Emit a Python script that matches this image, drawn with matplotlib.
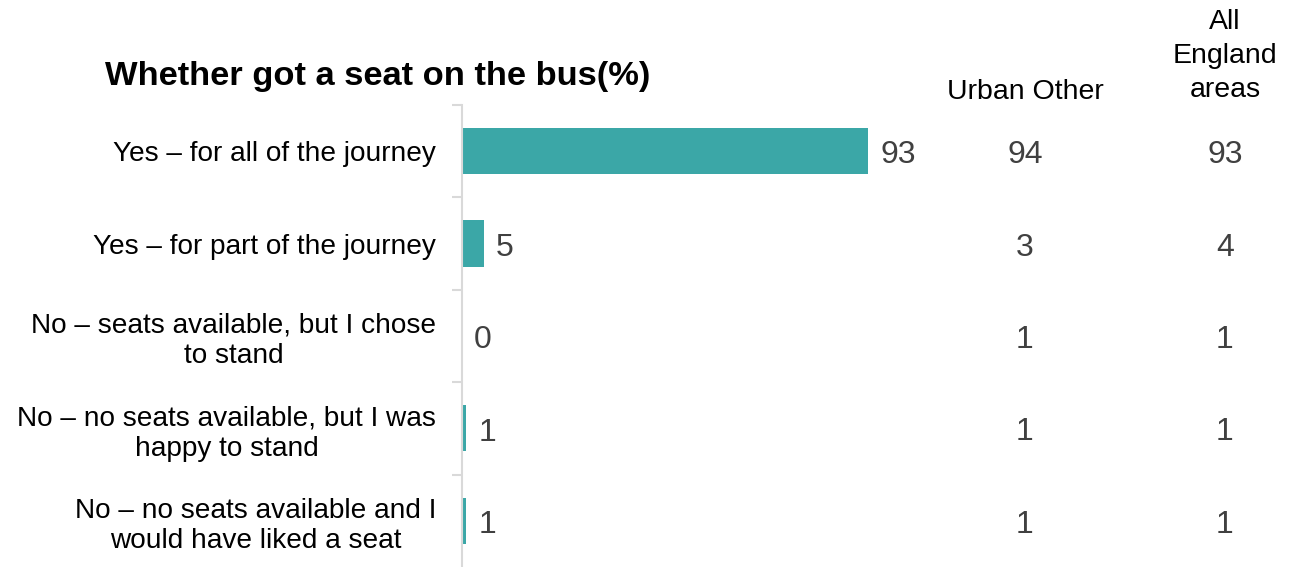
import matplotlib
matplotlib.use("Agg")
import matplotlib.pyplot as plt
from matplotlib.ticker import FixedLocator

plt.rcParams['font.family'] = ['Liberation Sans', 'DejaVu Sans']

categories = [
    "Yes – for all of the journey",
    "Yes – for part of the journey",
    "No – seats available, but I chose\nto stand",
    "No – no seats available, but I was\nhappy to stand",
    "No – no seats available and I\nwould have liked a seat",
]
urban_other_bar = [93, 5, 0, 1, 1]
urban_other_col = [94, 3, 1, 1, 1]
all_england = [93, 4, 1, 1, 1]
title = "Whether got a seat on the bus(%)"
col_headers = ["Urban Other", "All\nEngland\nareas"]

W, H = 1306, 567
fig = plt.figure(figsize=(W / 100, H / 100), dpi=100)
ax_left = 462 / W
ax_top = 105 / H
ax = fig.add_axes([ax_left, 0, 437 / W, 1 - ax_top])

ypos = list(range(len(categories)))
ax.barh(ypos, urban_other_bar, height=0.5, color="#3BA7A7")
ax.set_xlim(0, 100)
ax.set_ylim(len(categories) - 0.5, -0.5)

for s in ["top", "right", "bottom"]:
    ax.spines[s].set_visible(False)
ax.spines["left"].set_color("#D9D9D9")
ax.spines["left"].set_linewidth(1.5)
ax.set_xticks([])
ax.set_yticks(ypos)
ax.set_yticklabels(categories, fontsize=20.2, color="#000000",
                   multialignment="center", linespacing=1.22)
ax.tick_params(axis="y", which="major", length=0, pad=18.5)
ax.yaxis.set_minor_locator(FixedLocator([i - 0.5 for i in range(len(categories))]))
ax.tick_params(axis="y", which="minor", length=7, width=1.5, color="#D9D9D9")

for y, v in zip(ypos, urban_other_bar):
    ax.annotate(str(v), (v, y), xytext=(8.5, -3), textcoords="offset points",
                ha="left", va="center", fontsize=23, color="#404040")

# Extra columns
x_urban = 1025 / W
x_all = 1225 / W
for y, v1, v2 in zip(ypos, urban_other_col, all_england):
    yf = fig.transFigure.inverted().transform(ax.transData.transform((0, y)))[1]
    yf -= 4 / H
    fig.text(x_urban, yf, str(v1), ha="center", va="center", fontsize=23, color="#404040")
    fig.text(x_all, yf, str(v2), ha="center", va="center", fontsize=23, color="#404040")

fig.text(x_urban, 1 - 92 / H, col_headers[0], ha="center", va="center", fontsize=20.5, color="#000000")
fig.text(x_all, 1 - 56 / H, col_headers[1], ha="center", va="center", fontsize=20.5,
         color="#000000", multialignment="center", linespacing=1.4)

fig.text(105 / W, 1 - 76 / H, title, ha="left", va="center", fontsize=24.8,
         fontweight="bold", color="#000000")

fig.savefig("out.png", dpi=100)
